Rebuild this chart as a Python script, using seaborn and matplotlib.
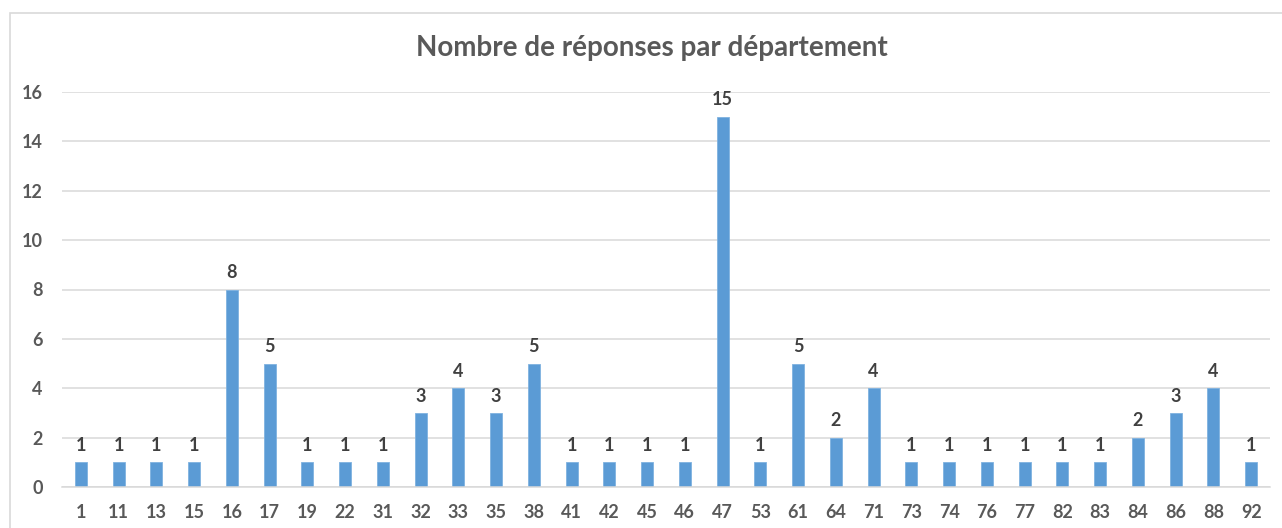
import matplotlib
matplotlib.use("Agg")
import matplotlib.pyplot as plt
import seaborn as sns
import pandas as pd
from matplotlib.patches import Rectangle

# Data
departements = ["1", "11", "13", "15", "16", "17", "19", "22", "31", "32", "33", "35",
                "38", "41", "42", "45", "46", "47", "53", "61", "64", "71", "73", "74",
                "76", "77", "82", "83", "84", "86", "88", "92"]
reponses = [1, 1, 1, 1, 8, 5, 1, 1, 1, 3, 4, 3,
            5, 1, 1, 1, 1, 15, 1, 5, 2, 4, 1, 1,
            1, 1, 1, 1, 2, 3, 4, 1]
y_ticks = [0, 2, 4, 6, 8, 10, 12, 14, 16]

df = pd.DataFrame({"dep": departements, "n": reponses})

sns.set_theme(style="white")
plt.rcParams["font.family"] = ["Lato", "DejaVu Sans"]

text_col = "#595959"
bar_col = "#5B9BD5"

fig = plt.figure(figsize=(12.82, 5.28), dpi=100)
ax = fig.add_axes([62 / 1282, 1 - 487 / 528, (1270 - 62) / 1282, (487 - 92) / 528])

sns.barplot(data=df, x="dep", y="n", order=departements, color=bar_col,
            width=0.32, ax=ax, saturation=1, edgecolor="#7FB2E0", linewidth=0.6)

ax.set_xlim(-0.5, len(departements) - 0.5)
ax.set_ylim(0, 16)
ax.set_yticks(y_ticks)
ax.yaxis.grid(True, color="#D9D9D9", linewidth=1.1)
ax.set_axisbelow(True)
for s in ["left", "right", "top"]:
    ax.spines[s].set_visible(False)
ax.spines["bottom"].set_color("#D9D9D9")
ax.spines["bottom"].set_linewidth(1.1)
ax.tick_params(axis="both", length=0, colors=text_col, labelsize=13)
ax.tick_params(axis="x", pad=12)
ax.tick_params(axis="y", pad=14)
for lab in ax.get_xticklabels() + ax.get_yticklabels():
    lab.set_fontweight("bold")
ax.set_xlabel("")
ax.set_ylabel("")

# value labels
for c in ax.containers:
    ax.bar_label(c, labels=[str(v) for v in reponses], padding=6,
                 fontsize=13, fontweight="bold", color="#404040")

fig.text(652 / 1282, 1 - 48 / 528, "Nombre de réponses par département",
         ha="center", va="center", fontsize=20, fontweight="bold", color=text_col)

# chart border (Excel-style frame, cut off on right and bottom)
fig.patches.append(Rectangle((10 / 1282, -0.05), 1.1, 1 - 13 / 528 + 0.05,
                             transform=fig.transFigure, fill=False,
                             edgecolor="#D9D9D9", linewidth=1.2))

fig.savefig("out.png", dpi=100)
